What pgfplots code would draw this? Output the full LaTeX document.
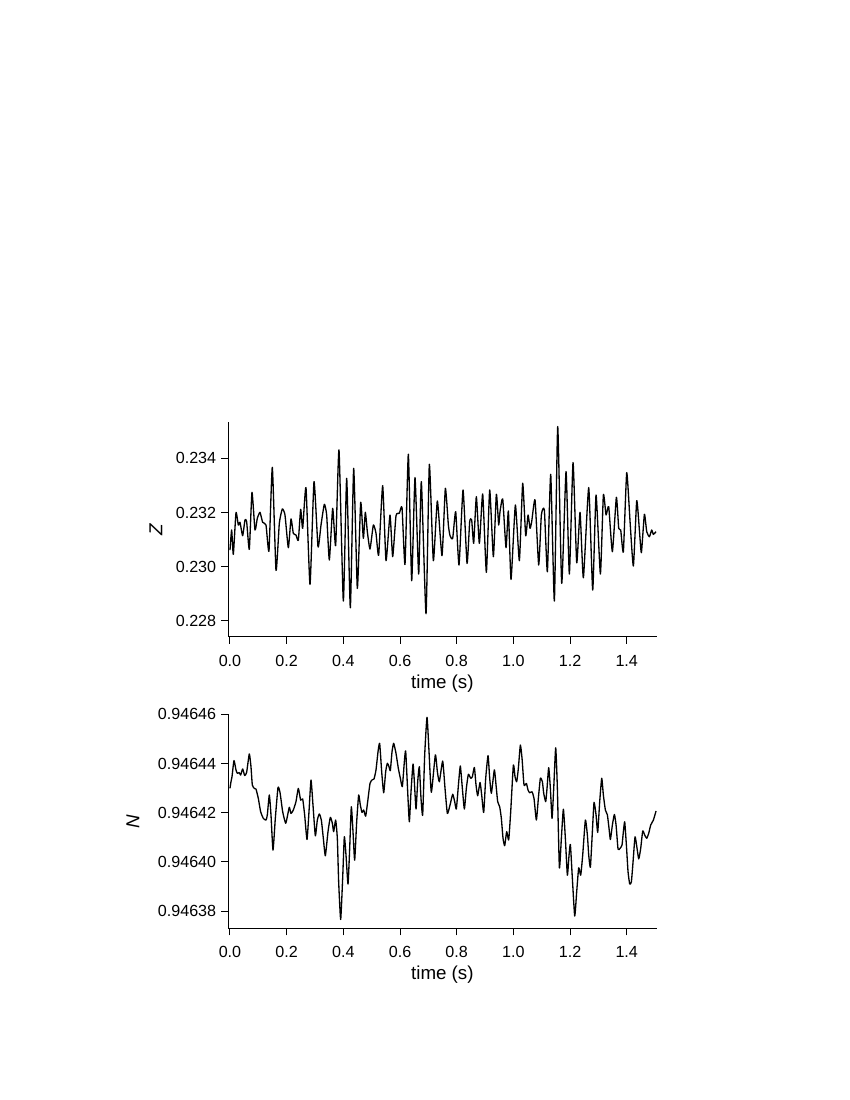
\documentclass[border=0pt]{standalone}
\usepackage{fontspec}
\setmainfont{Liberation Sans}
\usepackage{pgfplots}
\pgfplotsset{compat=1.18}

% Z(t)
\pgfplotstableread{
t Z
0.0000 0.230609
0.0059 0.231349
0.0118 0.230449
0.0212 0.231989
0.0294 0.231533
0.0353 0.231632
0.0447 0.231139
0.0529 0.231718
0.0588 0.231657
0.0682 0.230634
0.0776 0.232741
0.0882 0.231349
0.0965 0.231780
0.1059 0.232002
0.1153 0.231632
0.1271 0.231533
0.1376 0.230572
0.1494 0.233665
0.1624 0.229857
0.1741 0.231595
0.1847 0.232125
0.1941 0.231903
0.2059 0.230695
0.2153 0.231755
0.2235 0.231225
0.2329 0.231164
0.2412 0.230967
0.2494 0.232113
0.2565 0.231410
0.2682 0.232914
0.2824 0.229340
0.2965 0.233135
0.3106 0.230732
0.3212 0.231533
0.3329 0.232297
0.3412 0.231903
0.3506 0.230239
0.3624 0.232150
0.3729 0.230769
0.3847 0.234306
0.4000 0.228724
0.4118 0.233259
0.4247 0.228477
0.4365 0.233628
0.4494 0.229192
0.4612 0.232371
0.4706 0.231040
0.4776 0.232002
0.4847 0.231287
0.4941 0.230646
0.5059 0.231533
0.5153 0.231225
0.5247 0.230424
0.5388 0.232988
0.5506 0.230215
0.5647 0.231903
0.5741 0.230363
0.5859 0.231878
0.5976 0.231965
0.6071 0.232174
0.6176 0.230079
0.6294 0.234146
0.6412 0.229475
0.6529 0.233283
0.6659 0.229722
0.6753 0.233135
0.6918 0.228255
0.7035 0.233776
0.7176 0.230215
0.7318 0.232421
0.7482 0.230400
0.7600 0.232889
0.7706 0.231533
0.7765 0.231139
0.7859 0.231040
0.7965 0.232026
0.8082 0.230055
0.8224 0.232827
0.8365 0.230116
0.8459 0.231657
0.8529 0.231718
0.8600 0.230856
0.8694 0.232581
0.8800 0.230856
0.8918 0.232679
0.9047 0.229784
0.9165 0.232827
0.9294 0.230363
0.9400 0.232667
0.9482 0.231533
0.9529 0.232026
0.9624 0.232495
0.9741 0.230695
0.9824 0.232051
0.9918 0.229525
1.0071 0.232273
1.0212 0.230215
1.0329 0.233074
1.0435 0.231139
1.0518 0.231903
1.0588 0.231410
1.0647 0.231657
1.0765 0.232458
1.0894 0.230055
1.0988 0.231903
1.1094 0.232088
1.1200 0.229808
1.1318 0.233407
1.1447 0.228724
1.1565 0.235169
1.1706 0.229377
1.1859 0.233505
1.1976 0.229722
1.2106 0.233838
1.2235 0.230141
1.2353 0.232002
1.2471 0.229586
1.2659 0.232914
1.2800 0.229130
1.2918 0.232642
1.3071 0.229722
1.3176 0.232642
1.3271 0.231903
1.3365 0.232211
1.3494 0.230548
1.3635 0.232556
1.3718 0.231410
1.3788 0.231349
1.3882 0.230548
1.4000 0.233468
1.4118 0.231657
1.4235 0.230018
1.4353 0.232433
1.4447 0.231349
1.4518 0.230511
1.4624 0.231928
1.4706 0.231287
1.4800 0.231102
1.4882 0.231349
1.4941 0.231188
1.5035 0.231287
}\Zdata

% N(t): column v gives N = 0.9464 + v*1e-5
\pgfplotstableread{
t v
0.0000 2.99
0.0035 3.26
0.0071 3.46
0.0141 4.12
0.0212 3.74
0.0259 3.60
0.0329 3.63
0.0376 3.53
0.0447 3.78
0.0518 3.51
0.0588 3.64
0.0682 4.39
0.0741 3.87
0.0788 3.13
0.0859 2.99
0.0918 2.96
0.1000 2.58
0.1082 2.04
0.1176 1.77
0.1271 1.70
0.1318 1.91
0.1388 2.72
0.1447 1.91
0.1518 0.48
0.1600 1.77
0.1694 3.02
0.1765 2.83
0.1859 2.04
0.1965 1.57
0.2035 1.91
0.2094 2.22
0.2153 1.97
0.2235 2.11
0.2329 2.45
0.2412 2.99
0.2494 2.51
0.2565 2.56
0.2635 1.91
0.2718 0.91
0.2788 2.04
0.2859 3.33
0.2929 2.31
0.3012 1.06
0.3082 1.70
0.3153 1.95
0.3224 1.70
0.3294 0.96
0.3365 0.25
0.3459 1.23
0.3541 1.81
0.3612 1.57
0.3659 1.23
0.3729 1.70
0.3788 0.96
0.3835 -0.81
0.3906 -2.34
0.3976 -0.67
0.4035 1.02
0.4094 0.28
0.4165 -0.90
0.4224 0.55
0.4282 2.24
0.4341 1.23
0.4400 0.07
0.4471 1.63
0.4541 2.72
0.4600 2.31
0.4659 2.01
0.4718 2.11
0.4788 1.86
0.4859 2.45
0.4941 3.19
0.5012 3.33
0.5082 3.37
0.5153 3.74
0.5224 4.48
0.5282 4.82
0.5353 3.67
0.5424 2.81
0.5494 3.67
0.5553 4.01
0.5612 3.87
0.5659 3.71
0.5718 4.48
0.5776 4.82
0.5859 4.41
0.5941 3.80
0.6012 3.40
0.6082 3.06
0.6153 4.07
0.6200 4.51
0.6271 2.85
0.6329 1.63
0.6388 2.85
0.6459 3.98
0.6506 3.26
0.6565 2.15
0.6624 3.26
0.6682 3.87
0.6741 2.58
0.6800 1.91
0.6871 4.35
0.6953 5.88
0.7024 4.48
0.7106 2.83
0.7247 4.35
0.7318 3.67
0.7388 3.26
0.7506 4.10
0.7588 2.99
0.7671 1.97
0.7765 2.31
0.7859 2.75
0.7929 2.45
0.7988 2.15
0.8071 3.26
0.8129 3.90
0.8200 2.99
0.8271 2.15
0.8341 2.99
0.8412 3.56
0.8494 3.40
0.8553 3.46
0.8624 3.84
0.8682 3.13
0.8741 2.69
0.8824 3.23
0.8882 2.72
0.8953 2.01
0.9024 3.40
0.9106 4.32
0.9165 3.40
0.9224 2.79
0.9329 3.74
0.9388 3.13
0.9447 2.45
0.9518 2.24
0.9576 1.77
0.9635 0.96
0.9694 0.66
0.9765 1.23
0.9835 0.89
0.9906 2.04
1.0000 3.94
1.0059 3.46
1.0118 3.26
1.0176 3.80
1.0247 4.75
1.0306 4.21
1.0376 3.13
1.0459 3.19
1.0518 2.92
1.0576 2.81
1.0659 2.85
1.0729 2.58
1.0812 1.70
1.0882 2.58
1.0953 3.40
1.1024 3.26
1.1071 2.79
1.1141 2.45
1.1188 2.99
1.1247 3.83
1.1306 2.99
1.1365 1.77
1.1424 2.99
1.1494 4.64
1.1553 2.99
1.1624 -0.24
1.1694 0.96
1.1765 2.14
1.1835 0.96
1.1906 -0.54
1.1965 0.28
1.2012 0.71
1.2082 -0.67
1.2165 -2.20
1.2235 -1.21
1.2306 -0.24
1.2376 -0.54
1.2447 0.28
1.2541 1.70
1.2612 1.09
1.2659 0.28
1.2718 -0.22
1.2788 1.23
1.2847 2.42
1.2918 1.91
1.2976 1.20
1.3047 2.45
1.3118 3.40
1.3176 2.72
1.3247 2.11
1.3318 1.91
1.3376 1.36
1.3424 0.91
1.3494 1.50
1.3565 1.93
1.3624 1.50
1.3694 0.52
1.3765 0.55
1.3835 0.69
1.3882 1.23
1.3929 1.63
1.3988 0.69
1.4047 -0.40
1.4106 -0.90
1.4165 -0.81
1.4224 0.01
1.4294 1.02
1.4365 0.55
1.4424 0.12
1.4494 0.55
1.4565 1.26
1.4635 1.09
1.4706 0.96
1.4776 1.16
1.4847 1.50
1.4941 1.70
1.5035 2.07
}\Ndata

\pgfplotsset{igor/.style={
  scale only axis, width=308.7pt,
  axis x line*=bottom, axis y line*=left,
  tick align=outside, major tick length=5pt,
  xmin=-0.007, xmax=1.506,
  xtick={0,0.2,0.4,0.6,0.8,1.0,1.2,1.4},
  xticklabels={0.0,0.2,0.4,0.6,0.8,1.0,1.2,1.4},
  scaled x ticks=false, scaled y ticks=false,
  xticklabel shift=3.5pt,
  typeset ticklabels with strut,
  yticklabel style={yshift=-1.5pt},
  /pgf/number format/assume math mode=true,
  ticklabel style={font=\fontsize{11.6}{13}\selectfont},
  label style={font=\fontsize{13.5}{16}\selectfont},
  axis line style={line width=0.7pt},
  every tick/.style={line width=0.7pt, black},
  xlabel={time (s)},
  xlabel style={at={(axis description cs:0.5,-0.218)},anchor=center},
  clip=false,
}}

\begin{document}
\begin{tikzpicture}
\path (0,0) rectangle (612pt,792pt);
\begin{axis}[igor, at={(164.16pt,333.6pt)}, anchor=south west, height=154.8pt,
  ymin=0.22741, ymax=0.23535, ytick={0.228,0.230,0.232,0.234},
  yticklabels={0.228,0.230,0.232,0.234},
  ylabel={\textit{Z}}, ylabel style={at={(axis description cs:-0.168,0.5)},anchor=center}]
\addplot[black, line width=0.95pt, line join=round, smooth, tension=0.3] table[x=t,y=Z] {\Zdata};
\end{axis}
\begin{axis}[igor, at={(164.16pt,123.6pt)}, anchor=south west, height=154.1pt,
  ymin=-2.70, ymax=6, ytick={-2,0,2,4,6},
  yticklabels={0.94638,0.94640,0.94642,0.94644,0.94646},
  ylabel={\textit{N}}, ylabel style={at={(axis description cs:-0.2216,0.5)},anchor=center}]
\addplot[black, line width=0.95pt, line join=round, smooth, tension=0.3] table[x=t,y=v] {\Ndata};
\end{axis}
\end{tikzpicture}
\end{document}
